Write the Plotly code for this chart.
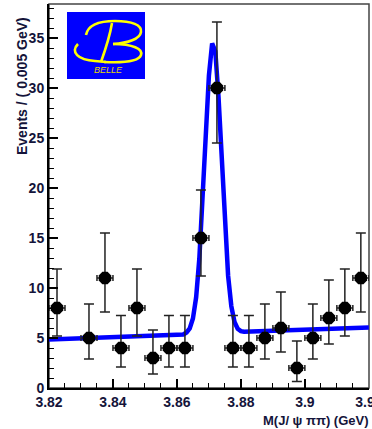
import plotly.graph_objects as go

# ---- data ----
bin_centers = [3.8225, 3.8325, 3.8375, 3.8425, 3.8475, 3.8525, 3.8575, 3.8625, 3.8675, 3.8725,
               3.8775, 3.8825, 3.8875, 3.8925, 3.8975, 3.9025, 3.9075, 3.9125, 3.9175]
counts = [8, 5, 11, 4, 8, 3, 4, 4, 15, 30, 4, 4, 5, 6, 2, 5, 7, 8, 11]
err_plus = [3.9, 3.4, 4.5, 3.25, 3.9, 2.8, 3.25, 3.25, 4.8, 6.6, 3.25, 3.25, 3.4, 3.6, 2.7, 3.4, 3.8, 3.9, 4.5]
err_minus = [2.8, 2.1, 3.4, 1.9, 2.8, 1.6, 1.9, 1.9, 3.8, 5.5, 1.9, 1.9, 2.1, 2.4, 1.35, 2.1, 2.6, 2.8, 3.4]
bin_half_width = [0.0025] * len(bin_centers)

fit_x = [3.820, 3.862, 3.863, 3.864, 3.865, 3.866, 3.867, 3.868, 3.869, 3.870, 3.871, 3.872,
         3.873, 3.874, 3.875, 3.876, 3.877, 3.878, 3.879, 3.880, 3.881, 3.920]
fit_y = [4.85, 5.36, 5.55, 5.95, 6.95, 9.06, 12.92, 18.48, 25.14, 31.25, 34.46, 33.68,
         29.09, 22.50, 16.12, 11.23, 8.19, 6.60, 5.92, 5.69, 5.62, 6.06]

x_tickvals = [3.82, 3.84, 3.86, 3.88, 3.90, 3.92]
x_ticktext = ["3.82", "3.84", "3.86", "3.88", "3.9", "3.92"]
y_tickvals = [0, 5, 10, 15, 20, 25, 30, 35]

TXT = "#14143a"
FONT = "Liberation Sans"

# layout geometry (pixels) used to place the logo decoration
L, R, T, B = 49, 3, 4, 41
W, H = 372, 429
PW, PH = W - L - R, H - T - B


def px(xp, yp):
    return (xp - L) / PW, (H - B - yp) / PH


def path_from(cmds):
    out = []
    for c in cmds:
        if isinstance(c, str):
            out.append(c)
        else:
            x, y = px(*c)
            out.append(f"{x:.4f},{y:.4f}")
    return " ".join(out)


logo_B_strokes = [
    ["M", (86, 35), "C", (88, 25), (100, 21), (115, 21), "C", (132, 21), (142, 25), (141, 32),
     "C", (140, 39), (128, 43), (113, 44)],
    ["M", (113, 44), "C", (133, 44), (143, 49), (141, 55), "C", (139, 61), (125, 63), (104, 62)],
    ["M", (112, 23), "C", (110, 35), (106, 48), (101, 62)],
    ["M", (78, 44), "C", (70, 52), (78, 60), (95, 61), "L", (106, 62)],
]

fig = go.Figure()

fig.add_trace(go.Scatter(
    x=fit_x, y=fit_y, mode="lines",
    line=dict(color="#0000ff", width=4.5),
    hoverinfo="skip", showlegend=False,
))

fig.add_trace(go.Scatter(
    x=bin_centers, y=counts, mode="markers",
    marker=dict(symbol="octagon", size=13.5, color="black"),
    error_y=dict(type="data", symmetric=False, array=err_plus, arrayminus=err_minus,
                 color="#222222", thickness=1.5, width=5),
    error_x=dict(type="data", array=bin_half_width, color="#222222", thickness=1.5, width=3),
    showlegend=False,
))

shapes = [
    dict(type="rect", xref="paper", yref="paper", x0=0, x1=1, y0=0, y1=1,
         line=dict(color="#444444", width=1.5), layer="below"),
    dict(type="rect", xref="paper", yref="paper", x0=px(67, 0)[0], x1=px(145, 0)[0],
         y0=px(0, 79)[1], y1=px(0, 12)[1],
         line=dict(width=0), fillcolor="#0000ff", layer="above"),
]
for s in logo_B_strokes:
    shapes.append(dict(type="path", xref="paper", yref="paper", path=path_from(s),
                       line=dict(color="#ffff00", width=2.6), layer="above"))

fig.update_layout(
    template="none",
    width=W, height=H,
    margin=dict(l=L, r=R, t=T, b=B, pad=0),
    paper_bgcolor="white", plot_bgcolor="white",
    showlegend=False,
    xaxis=dict(
        range=[3.82, 3.92005], showgrid=False, zeroline=False, automargin=False,
        showline=True, linecolor="black", linewidth=2,
        ticks="inside", ticklen=9, tickwidth=1.5, tickcolor="black",
        tickvals=x_tickvals, ticktext=x_ticktext, ticklabeloverflow="allow",
        tickfont=dict(family=FONT, size=14, color=TXT, weight="bold"),
        minor=dict(dtick=0.005, tick0=3.82, ticks="inside", ticklen=5, tickwidth=1.2,
                   tickcolor="black", showgrid=False),
    ),
    yaxis=dict(
        range=[0, 38.4], showgrid=False, zeroline=False, automargin=False,
        showline=True, linecolor="black", linewidth=2,
        ticks="inside", ticklen=9, tickwidth=1.5, tickcolor="black",
        tickvals=y_tickvals,
        tickfont=dict(family=FONT, size=14, color=TXT, weight="bold"),
        minor=dict(dtick=1, tick0=0, ticks="inside", ticklen=5, tickwidth=1.2,
                   tickcolor="black", showgrid=False),
    ),
    shapes=shapes,
    annotations=[
        dict(text="Events / ( 0.005 GeV)", textangle=-90, xref="paper", yref="paper",
             x=px(22, 0)[0], y=px(0, 15)[1], xanchor="center", yanchor="top", showarrow=False,
             font=dict(family=FONT, size=14, color=TXT, weight="bold")),
        dict(text="M(J/ ψ ππ) (GeV)", xref="paper", yref="paper",
             x=px(371, 0)[0], y=px(0, 420)[1], xanchor="right", yanchor="middle", showarrow=False,
             font=dict(family=FONT, size=13, color=TXT, weight="bold")),
        dict(text="<i>BELLE</i>", xref="paper", yref="paper", x=px(108, 0)[0], y=px(0, 70)[1],
             xanchor="center", yanchor="middle", showarrow=False,
             font=dict(family=FONT, size=9, color="#e8d800")),
    ],
)

fig.write_html(
    "out.html",
    config={"displayModeBar": False},
    post_script="document.body.style.margin='0px';document.body.style.overflow='hidden';",
)
